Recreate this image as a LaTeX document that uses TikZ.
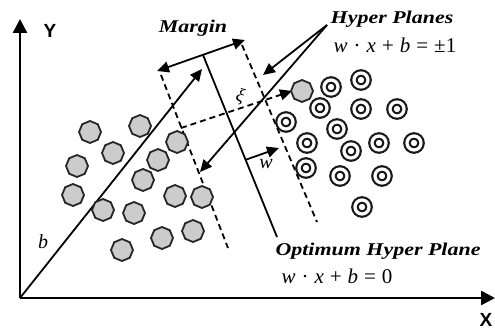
\documentclass[tikz,border=0pt]{standalone}
\usepackage{fontspec}
\setmainfont{Liberation Serif}
\setsansfont{Liberation Sans}
\usetikzlibrary{arrows.meta,shapes.geometric}
\newcommand{\eqsp}{\hspace{6pt}}
\begin{document}
\begin{tikzpicture}[x=1pt,y=-1pt,
  axis/.style={line width=2.6pt,-{Triangle[length=14pt,width=14pt]}},
  thinline/.style={line width=1.8pt},
  tipped/.style={-{Triangle[length=12pt,width=11pt]}},
  bothtipped/.style={{Triangle[length=12pt,width=11pt]}-{Triangle[length=12pt,width=11pt]}},
  dashline/.style={line width=1.8pt,dash pattern=on 6pt off 4pt},
  octa/.style={regular polygon,regular polygon sides=8,minimum size=22pt,inner sep=0pt,
    fill=black!20,draw=black!85,line width=1.8pt,shape border rotate=22.5},
  ring/.style={circle,minimum size=14pt,inner sep=0pt,draw=black!90,line width=2.2pt,
    double=white,double distance=3.2pt},
  bilabel/.style={font=\fontsize{18}{18}\selectfont\bfseries\itshape,xscale=1.22,inner sep=0pt},
  eqlabel/.style={font=\fontsize{21}{21}\selectfont,inner sep=0pt},
  axlabel/.style={font=\fontsize{19}{19}\selectfont\sffamily\bfseries,inner sep=0pt}]
\useasboundingbox (0,0) rectangle (495,331);
% axes
\coordinate (O) at (20,298);
\coordinate (Ytip) at (20,19);
\coordinate (Xtip) at (495,298);
\draw[axis] (O) -- (Ytip);
\draw[axis] (O) -- (Xtip);
\node[axlabel] (ylab) at (50,31) {Y};
\node[axlabel] (xlab) at (486,320) {X};
% b vector
\coordinate (btip) at (202,69);
\draw[thinline,tipped] (O) -- (btip);
\node[font=\fontsize{20}{20}\selectfont\itshape,inner sep=0pt] (blab) at (43,242) {b};
% margin
\coordinate (mL) at (157,71);
\coordinate (mR) at (245,40);
\draw[thinline,bothtipped] (mL) -- (mR);
\node[bilabel] (marg) at (193,28) {Margin};
% optimum hyperplane
\coordinate (hTop) at (203,55);
\coordinate (hBot) at (277,237);
\draw[thinline] (hTop) -- (hBot);
% dashed hyperplanes
\coordinate (lTop) at (161,75);
\coordinate (lBot) at (228,248);
\coordinate (rTop) at (242,45);
\coordinate (rBot) at (317,222);
\draw[dashline] (lTop) -- (lBot);
\draw[dashline] (rTop) -- (rBot);
% labels
\node[bilabel] (hp) at (392,19) {Hyper Planes};
\node[eqlabel] (hpeq) at (395,45) {\textit{w}\eqsp·\eqsp\textit{x}\eqsp+\eqsp\textit{b}\eqsp=\eqsp±1};
\node[bilabel] (ohp) at (378,251) {Optimum Hyper Plane};
\node[eqlabel] (ohpeq) at (337,276) {\textit{w}\eqsp·\eqsp\textit{x}\eqsp+\eqsp\textit{b}\eqsp=\eqsp0};
\coordinate (hpfrom) at (327,25);
\coordinate (hpA) at (263,75);
\coordinate (hpB) at (200,172);
\draw[thinline,tipped] (hpfrom) -- (hpA);
\draw[thinline,tipped] (hpfrom) -- (hpB);
% xi
\coordinate (xiS) at (181,128);
\coordinate (xiE) at (292,91);
\draw[dashline,tipped] (xiS) -- (xiE);
\node[font=\fontsize{19}{19}\selectfont\itshape,inner sep=0pt,rotate=-15] (xi) at (240,97) {ξ};
% w
\coordinate (wS) at (245,160);
\coordinate (wE) at (279,148);
\draw[thinline,tipped] (wS) -- (wE);
\node[font=\fontsize{20}{20}\selectfont\itshape,inner sep=0pt] (wlab) at (266,164) {w};
% class 1 octagons
\foreach \p [count=\i] in {(90,132),(140,126),(113,153),(177,142),(158,160),(77,166),(143,180),(73,195),(103,210),(134,213),(175,196),(202,197),(193,231),(162,238),(122,250),(302,91)}
  \node[octa] (g\i) at \p {};
% class 2 rings
\foreach \p [count=\i] in {(331,87),(361,80),(320,108),(361,109),(397,109),(286,122),(337,129),(307,143),(351,151),(379,143),(414,143),(306,168),(340,176),(382,176),(362,207)}
  \node[ring] (c\i) at \p {};
\end{tikzpicture}
\end{document}
